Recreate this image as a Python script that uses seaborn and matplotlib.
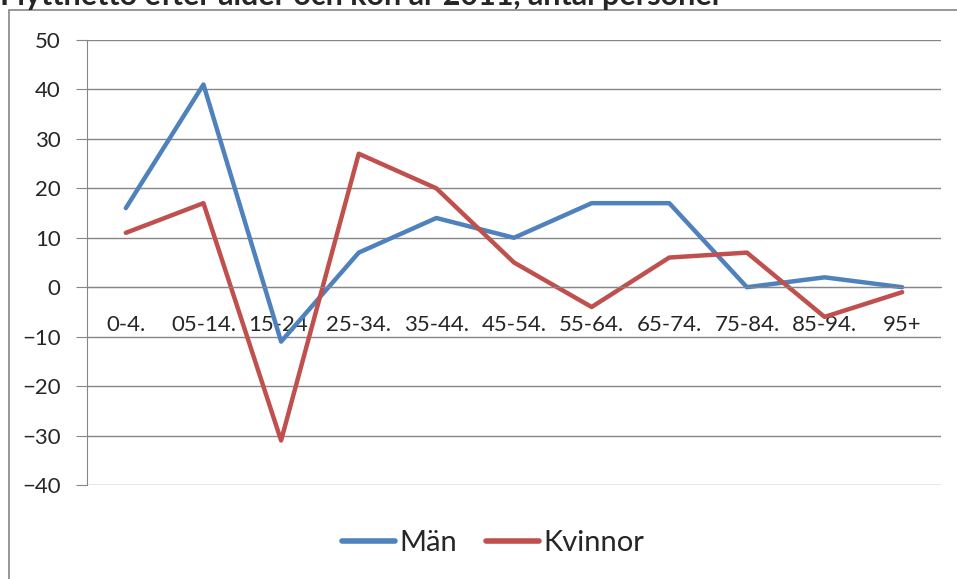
import numpy as np
import pandas as pd
import seaborn as sns
import matplotlib.pyplot as plt
from matplotlib.patches import Rectangle
from matplotlib.ticker import FixedLocator

# age groups and net migration per sex
age_groups = ["0-4.", "05-14.", "15-24.", "25-34.", "35-44.", "45-54.",
              "55-64.", "65-74.", "75-84.", "85-94.", "95+"]
man = [16, 41, -11, 7, 14, 10, 17, 17, 0, 2, 0]
kvinnor = [11, 17, -31, 27, 20, 5, -4, 6, 7, -6, -1]
series = ["Män", "Kvinnor"]
title = "Flyttnetto efter ålder och kön år 2011, antal personer"

pos = np.arange(len(age_groups))
df = pd.DataFrame({
    "pos": np.concatenate([pos, pos]),
    "value": man + kvinnor,
    "series": [series[0]] * len(man) + [series[1]] * len(kvinnor),
})

sns.set_style("white")
plt.rcParams["font.family"] = ["Lato", "DejaVu Sans"]

fig = plt.figure(figsize=(9.57, 5.79), dpi=100)
ax = fig.add_axes([87 / 957, 94 / 579, 854 / 957, 445 / 579])

sns.lineplot(data=df, x="pos", y="value", hue="series", sort=False,
             palette=["#4F81BD", "#C0504D"], linewidth=3.2, ax=ax,
             legend=True)

grid_c = "#868686"
ax.set_xlim(-0.5, len(age_groups) - 0.5)
ax.set_ylim(-40, 50)
ax.set_yticks(range(-40, 51, 10))
ax.yaxis.grid(True, color=grid_c, linewidth=1)
ax.set_axisbelow(True)

ax.spines["bottom"].set_position(("data", 0))
ax.spines["bottom"].set_color(grid_c)
ax.spines["left"].set_color(grid_c)
ax.spines["top"].set_visible(False)
ax.spines["right"].set_visible(False)

ax.set_xticks(pos)
ax.set_xticklabels(age_groups)
ax.xaxis.set_minor_locator(FixedLocator(np.arange(-0.5, len(age_groups), 1)))
ax.tick_params(axis="x", which="major", length=0, pad=20, labelsize=16)
ax.tick_params(axis="x", which="minor", length=6, color=grid_c, direction="out")
ax.tick_params(axis="y", length=8, color=grid_c, direction="out", pad=11,
               labelsize=16, left=True)
ax.set_xlabel("")
ax.set_ylabel("")

leg = ax.legend(loc="center", bbox_to_anchor=(493 / 957, 1 - 543 / 579),
                bbox_transform=fig.transFigure, ncol=2, frameon=False,
                fontsize=21, handlelength=1.8, handletextpad=0.15,
                columnspacing=1.0)
for h in leg.get_lines():
    h.set_linewidth(4)
    h.set_solid_capstyle("round")

fig.add_artist(Rectangle((9 / 957, -0.01), 1.0, 1 - 10.5 / 579 + 0.01,
                         transform=fig.transFigure, fill=False,
                         edgecolor=grid_c, linewidth=1.2))
fig.text(0.0, 1 - 4.5 / 579, title, ha="left", va="baseline",
         fontsize=22, fontweight="bold")

fig.savefig("out.png", dpi=100)
